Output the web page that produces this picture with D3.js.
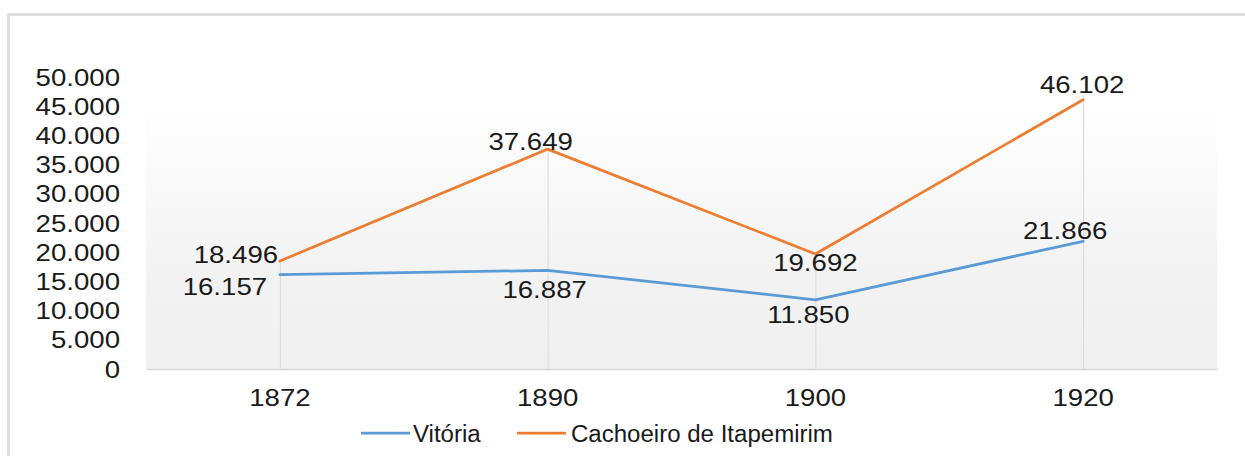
<!DOCTYPE html>
<html>
<head>
<meta charset="utf-8">
<script src="https://cdn.jsdelivr.net/npm/d3@7"></script>
<style>
  html, body { margin: 0; padding: 0; background: #ffffff; }
  svg { display: block; }
  text { font-family: "Liberation Sans", Arial, sans-serif; fill: #1a1a1a; }
</style>
</head>
<body>
<svg id="chart" width="1245" height="456"></svg>
<script>
// ---- Data ----
const categories = ["1872", "1890", "1900", "1920"];
const seriesNames = ["Vitória", "Cachoeiro de Itapemirim"];
const vitoria = [16157, 16887, 11850, 21866];
const cachoeiro = [18496, 37649, 19692, 46102];
const yTicks = [0, 5000, 10000, 15000, 20000, 25000, 30000, 35000, 40000, 45000, 50000];

// ---- Style / layout (not data) ----
const colors = ["#5b9bd5", "#ed7d31"];
// label centre offsets relative to each point (px)
const labelOffsetsVitoria = [[-55, 12], [-3, 20], [-7, 15], [-18, -10]];
const labelOffsetsCachoeiro = [[-44, -6], [-17, -7], [0, 9], [-1, -15]];

const svg = d3.select("#chart");
const W = 1245, H = 456;
const plot = { left: 146, right: 1217, top: 77, bottom: 369 };
const numScale = 1.2;
const fontSize = 23;

const loc = d3.formatLocale({ decimal: ",", thousands: ".", grouping: [3], currency: ["R$", ""] });
const fmt = loc.format(",.0f");

const x = d3.scaleBand().domain(categories).range([plot.left, plot.right]).paddingInner(0).paddingOuter(0);
const xc = c => x(c) + x.bandwidth() / 2;
const y = d3.scaleLinear().domain([0, 50000]).range([plot.bottom, plot.top]);

// chart border
svg.append("rect")
  .attr("x", 8.5).attr("y", 14.5).attr("width", 1400).attr("height", 600)
  .attr("fill", "#ffffff").attr("stroke", "#d9d9d9").attr("stroke-width", 2.5);

// plot area gradient
const defs = svg.append("defs");
const grad = defs.append("linearGradient").attr("id", "bg").attr("x1", 0).attr("y1", 0).attr("x2", 0).attr("y2", 1);
grad.append("stop").attr("offset", "0%").attr("stop-color", "#ffffff");
grad.append("stop").attr("offset", "10%").attr("stop-color", "#ffffff");
grad.append("stop").attr("offset", "70%").attr("stop-color", "#f2f2f2");
grad.append("stop").attr("offset", "100%").attr("stop-color", "#f0f0f0");
svg.append("rect")
  .attr("x", plot.left).attr("y", plot.top)
  .attr("width", plot.right - plot.left).attr("height", plot.bottom - plot.top)
  .attr("fill", "url(#bg)");

// drop lines from highest point to axis
svg.append("g").selectAll("line").data(categories).join("line")
  .attr("x1", c => xc(c) + 0.5).attr("x2", c => xc(c) + 0.5)
  .attr("y1", (c, i) => y(Math.max(vitoria[i], cachoeiro[i])))
  .attr("y2", plot.bottom)
  .attr("stroke", "#d9d9d9").attr("stroke-width", 1);

// x axis line
const xAxis = d3.axisBottom(x).tickSize(0).tickPadding(0);
const gx = svg.append("g").attr("transform", `translate(0,${plot.bottom})`).call(xAxis);
gx.select(".domain").attr("stroke", "#d9d9d9").attr("stroke-width", 1.5);
gx.selectAll(".tick text").remove();
gx.selectAll(".tick").append("text")
  .attr("text-anchor", "middle")
  .attr("transform", `translate(0,37) scale(${numScale},1)`)
  .attr("font-size", fontSize)
  .text(d => d);

// y axis labels
const yAxis = d3.axisLeft(y).tickValues(yTicks).tickSize(0).tickPadding(0);
const gy = svg.append("g").attr("transform", `translate(${plot.left},0)`).call(yAxis);
gy.select(".domain").remove();
gy.selectAll(".tick text").remove();
gy.selectAll(".tick").append("text")
  .attr("text-anchor", "end")
  .attr("transform", `translate(-26,8) scale(${numScale},1)`)
  .attr("font-size", fontSize)
  .text(d => fmt(d));

// lines
const seriesData = [vitoria, cachoeiro];
const offsets = [labelOffsetsVitoria, labelOffsetsCachoeiro];
const line = d3.line().x((d, i) => xc(categories[i])).y(d => y(d));
seriesData.forEach((vals, s) => {
  svg.append("path").datum(vals)
    .attr("d", line)
    .attr("fill", "none")
    .attr("stroke", colors[s])
    .attr("stroke-width", 2.75)
    .attr("stroke-linejoin", "round")
    .attr("stroke-linecap", "round");
});

// data labels
seriesData.forEach((vals, s) => {
  svg.append("g").selectAll("text").data(vals).join("text")
    .attr("text-anchor", "middle")
    .attr("font-size", fontSize)
    .attr("transform", (d, i) => `translate(${xc(categories[i]) + offsets[s][i][0]},${y(d) + offsets[s][i][1] + 8}) scale(${numScale},1)`)
    .text(d => fmt(d));
});

// legend
const legendItems = [
  { name: seriesNames[0], color: colors[0], x1: 361, x2: 410, tx: 413 },
  { name: seriesNames[1], color: colors[1], x1: 517, x2: 566, tx: 571 }
];
const lg = svg.append("g");
legendItems.forEach(it => {
  lg.append("line").attr("x1", it.x1).attr("x2", it.x2).attr("y1", 433).attr("y2", 433)
    .attr("stroke", it.color).attr("stroke-width", 2.75);
  lg.append("text").attr("transform", `translate(${it.tx},441.5) scale(1.046,1)`)
    .attr("font-size", fontSize).text(it.name);
});
</script>
</body>
</html>
